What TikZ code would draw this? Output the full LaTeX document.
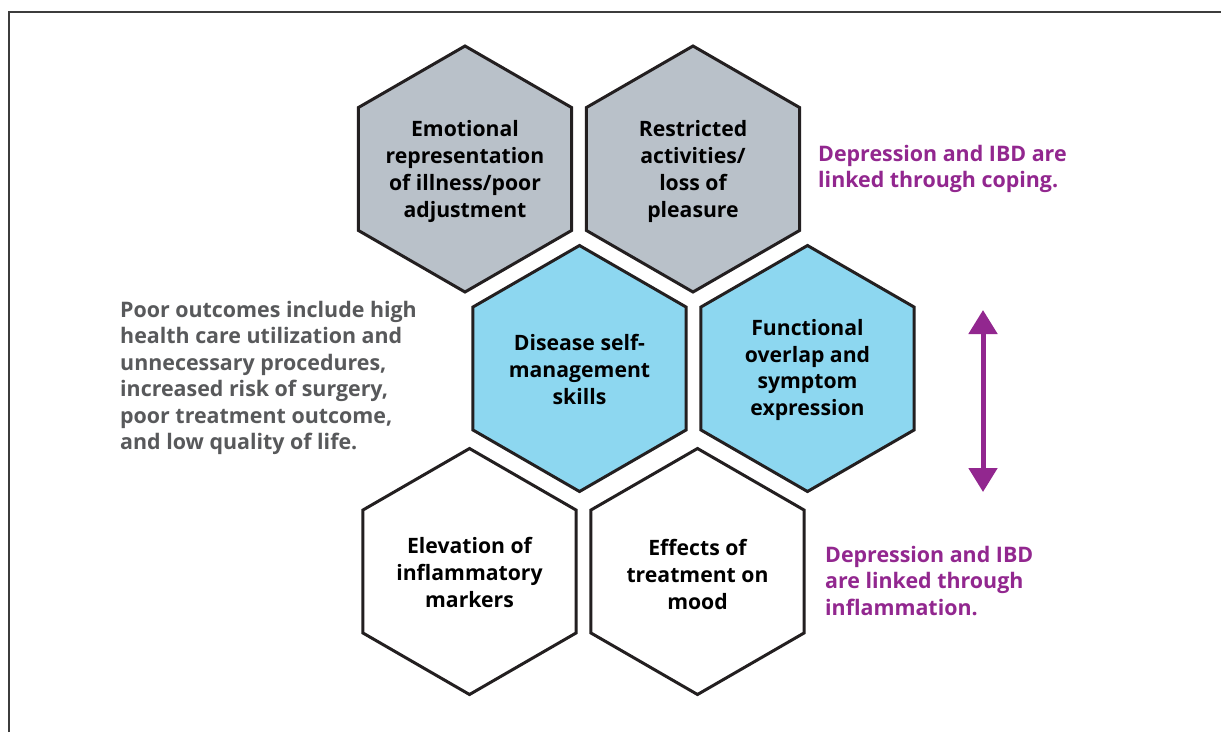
\documentclass[tikz,border=0pt]{standalone}
\usepackage{fontspec}
\setmainfont{Open Sans}
\usetikzlibrary{shapes.geometric,arrows.meta}
\definecolor{hexgray}{RGB}{185,193,201}
\definecolor{hexblue}{RGB}{141,215,240}
\definecolor{ibdpurple}{RGB}{146,39,143}
\definecolor{txtgray}{RGB}{88,89,91}
\definecolor{edgedark}{RGB}{35,31,32}
\definecolor{framegray}{RGB}{60,60,60}
\begin{document}
\begin{tikzpicture}[x=1pt,y=-1pt,
  hexbox/.style={regular polygon, regular polygon sides=6, shape border rotate=30,
    minimum size=246pt, inner sep=0pt, draw=edgedark, line width=3pt},
  grayhex/.style={hexbox, fill=hexgray},
  bluehex/.style={hexbox, fill=hexblue},
  whitehex/.style={hexbox, fill=white},
  hextext/.style={inner sep=0pt, align=center, text=black,
    font=\fontsize{21.2}{26.7}\selectfont\bfseries},
  sidenote/.style={anchor=north west, inner sep=0pt, align=left,
    font=\fontsize{21.4}{26.5}\selectfont\bfseries},
  purplenote/.style={sidenote, text=ibdpurple},
  graynote/.style={sidenote, text=txtgray},
  linkarrow/.style={draw=ibdpurple, line width=5pt,
    {Triangle[width=28pt,length=24pt]}-{Triangle[width=28pt,length=24pt]}}
]
\useasboundingbox (0,0) rectangle (1221,732);
\fill[white] (0,0) rectangle (1221,732);
% frame
\coordinate (frameBL) at (9,732);
\coordinate (frameTL) at (9,12);
\coordinate (frameTR) at (1221,12);
\draw[framegray, line width=1.2pt] (frameBL) -- (frameTL) -- (frameTR);

% hexagons
\node[grayhex] (emo) at (465,169) {};
\node[grayhex] (restr) at (693,169) {};
\node[bluehex] (self) at (579.5,368.5) {};
\node[bluehex] (func) at (807.5,368.5) {};
\node[whitehex] (elev) at (469.5,571.5) {};
\node[whitehex] (effects) at (697.5,571.5) {};

% hexagon texts
\node[hextext] (emoT) at ([yshift=-2.5pt]emo.center) {Emotional\\representation\\of illness/poor\\adjustment};
\node[hextext] (restrT) at ([yshift=-2.5pt]restr.center) {Restricted\\activities/\\loss of\\pleasure};
\node[hextext] (selfT) at ([yshift=-1pt]self.center) {Disease self-\\management\\skills};
\node[hextext] (funcT) at ([yshift=-1.5pt]func.center) {Functional\\overlap and\\symptom\\expression};
\node[hextext] (elevT) at ([yshift=-1pt]elev.center) {Elevation of\\inflammatory\\markers};
\node[hextext] (effectsT) at ([yshift=-3pt]effects.center) {Effects of\\treatment on\\mood};

% side notes
\node[graynote] (poor) at (120,301) {Poor outcomes include high\\health care utilization and\\unnecessary procedures,\\increased risk of surgery,\\poor treatment outcome,\\and low quality of life.};
\node[purplenote] (coping) at (818,145) {Depression and IBD are\\linked through coping.};
\node[purplenote] (inflam) at (825,546) {Depression and IBD\\are linked through\\inflammation.};

% arrow
\coordinate (arrtop) at (983,310);
\coordinate (arrbot) at (983,492);
\draw[linkarrow] (arrtop) -- (arrbot);
\end{tikzpicture}
\end{document}
